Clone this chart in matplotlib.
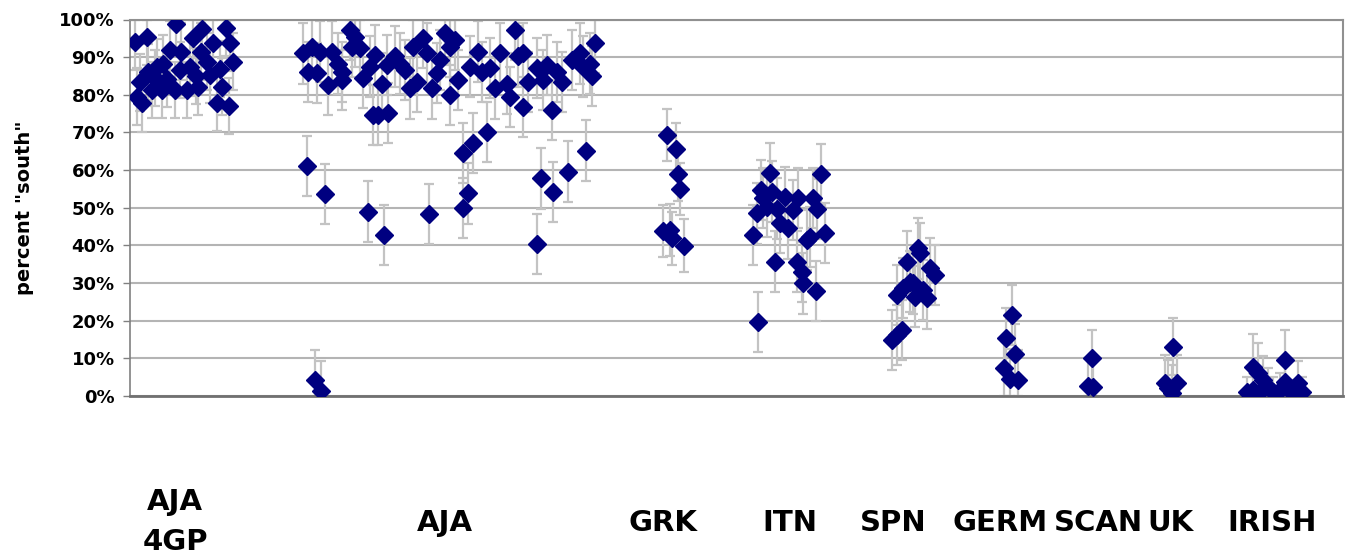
import numpy as np
import matplotlib
matplotlib.use('Agg')
import matplotlib.pyplot as plt

# sample positions (order along the x axis) and percent "south" for each group
gp4_x = [135, 147, 176, 193, 202, 213, 226, 230, 170, 181, 201, 233, 207, 163, 157, 148, 167,
         180, 190, 220, 210, 140, 152, 162, 175, 187, 198, 222, 137, 142, 217, 229, 155, 196]
gp4_y = [94.1, 95.3, 98.7, 95.0, 97.4, 93.7, 97.7, 93.7, 92.0, 91.5, 91.5, 88.8, 88.8, 88.3, 87.4, 86.0, 84.3,
         86.6, 87.3, 86.8, 85.3, 83.3, 81.3, 81.3, 81.3, 81.3, 82.2, 82.2, 79.5, 77.7, 77.9, 77.0, 84.5, 85.0]

aja_x = [303, 312, 320, 308, 317, 328, 332, 338, 342, 342, 350, 355, 352, 360, 363, 370, 375, 382,
         373, 378, 388, 387, 395, 400, 405, 410, 417, 413, 423, 427, 432, 437, 440, 445, 450, 455,
         450, 458, 470, 478, 482, 490, 495, 500, 507, 510, 515, 518, 523, 523, 528, 537, 543, 547,
         552, 557, 562, 572, 580, 583, 592, 595, 590,
         307, 325, 368, 384, 429, 463, 473, 487, 468, 463, 541, 553, 568, 586, 537, 315, 321]
aja_y = [91.0, 92.8, 91.5, 86.1, 85.7, 82.6, 91.5, 88.3, 86.1, 83.9, 97.2, 95.4, 92.8, 92.3, 84.4, 87.5,
         90.6, 83.0, 74.6, 74.6, 75.1, 87.9, 90.2, 88.3, 86.6, 81.7, 83.5, 92.8, 95.0, 91.0, 81.7, 85.7,
         89.2, 96.3, 92.8, 94.6, 79.9, 83.9, 87.5, 91.5, 86.1, 87.1, 81.7, 91.0, 83.0, 79.5, 97.2, 90.2,
         91.0, 76.8, 83.5, 87.1, 83.9, 87.9, 76.0, 86.1, 83.5, 89.2, 91.0, 87.5, 84.9, 93.7, 88.3,
         61.1, 53.7, 49.0, 42.7, 48.3, 64.6, 67.1, 70.2, 53.8, 50.0, 57.8, 54.1, 59.6, 65.2, 40.3, 4.2, 1.3]

grk_x = [667, 676, 678, 680, 663, 670, 672, 684]
grk_y = [69.3, 65.5, 58.9, 55.0, 43.8, 44.1, 41.9, 39.9]

itn_x = [753, 757, 758, 761, 763, 767, 770, 772, 775, 777, 780, 785, 788, 793, 798, 797, 802, 803,
         807, 810, 813, 817, 816, 821, 825]
itn_y = [42.8, 48.5, 19.7, 54.7, 52.5, 50.3, 59.3, 54.3, 35.7, 49.8, 45.9, 52.8, 44.5, 49.4, 52.5,
         35.7, 33.0, 29.9, 41.4, 42.3, 52.5, 49.6, 27.9, 58.9, 43.2]

spn_x = [892, 897, 902, 897, 903, 910, 907, 918, 920, 915, 923, 927, 930, 935, 913]
spn_y = [14.9, 16.2, 17.5, 26.8, 28.6, 30.4, 35.7, 39.2, 37.9, 26.4, 28.2, 25.9, 33.9, 32.1, 29.9]

germ_x = [1012, 1006, 1015, 1004, 1010, 1018]
germ_y = [21.5, 15.3, 11.2, 7.5, 4.4, 4.2]

scan_x = [1092, 1088, 1093]
scan_y = [10.2, 2.7, 2.3]

uk_x = [1173, 1165, 1177, 1172, 1168]
uk_y = [13.1, 3.4, 3.4, 0.7, 2.0]

irish_x = [1247, 1253, 1258, 1263, 1253, 1260, 1268, 1273, 1280, 1285, 1285, 1292, 1298, 1302]
irish_y = [1.1, 7.8, 6.0, 4.2, 1.6, 1.1, 2.5, 1.1, 1.6, 9.6, 3.8, 0.7, 3.4, 1.1]
irish_err = [4.0, 8.8, 8.0, 6.5, 4.5, 4.0, 5.0, 4.0, 4.5, 8.0, 6.0, 3.5, 6.0, 4.0]

# approximate error bar half-widths per group
group_err = {'gp4': 7.5, 'aja': 8.0, 'grk': 7.0, 'itn': 8.0, 'spn': 8.0,
             'germ': 8.0, 'scan': 7.3, 'uk': 7.5}

group_labels = ['AJA\n4GP', 'AJA', 'GRK', 'ITN', 'SPN', 'GERM', 'SCAN', 'UK', 'IRISH']
label_pos = [175, 445, 663, 790, 893, 1000, 1098, 1170, 1272]

yticks = np.arange(0, 101, 10)
ytick_labels = ['%d%%' % t for t in yticks]

fig = plt.figure(figsize=(13.46, 5.54), dpi=100)
ax = fig.add_axes([130 / 1346, 1 - 396 / 554, 1213 / 1346, (396 - 19.5) / 554])

series = [
    (gp4_x, gp4_y, [group_err['gp4']] * len(gp4_y)),
    (aja_x, aja_y, [group_err['aja']] * len(aja_y)),
    (grk_x, grk_y, [group_err['grk']] * len(grk_y)),
    (itn_x, itn_y, [group_err['itn']] * len(itn_y)),
    (spn_x, spn_y, [group_err['spn']] * len(spn_y)),
    (germ_x, germ_y, [group_err['germ']] * len(germ_y)),
    (scan_x, scan_y, [group_err['scan']] * len(scan_y)),
    (uk_x, uk_y, [group_err['uk']] * len(uk_y)),
    (irish_x, irish_y, irish_err),
]

for xs, ys, errs in series:
    ys = np.array(ys)
    errs = np.array(errs)
    lower = np.minimum(errs, ys)
    upper = np.minimum(errs, 100 - ys)
    ax.errorbar(xs, ys, yerr=[lower, upper], fmt='none', ecolor='#c3c3c3',
                elinewidth=1.6, capsize=3.5, capthick=1.6, zorder=2)
for xs, ys, errs in series:
    ax.plot(xs, ys, linestyle='none', marker='D', markersize=9.5,
            color='#000080', markeredgecolor='#000080', zorder=3)

ax.set_xlim(130, 1343)
ax.set_ylim(0, 100)
ax.set_xticks([])
ax.set_yticks(yticks)
ax.set_yticklabels(ytick_labels, fontsize=13, fontweight='bold', family='DejaVu Sans')
ax.tick_params(axis='y', length=5, width=1, color='#808080', pad=6)
ax.yaxis.grid(True, color='#b4b4b4', linewidth=1.5)
ax.set_axisbelow(True)
for side in ['top', 'right']:
    ax.spines[side].set_color('#909090')
    ax.spines[side].set_linewidth(1.5)
ax.spines['left'].set_color('#808080')
ax.spines['left'].set_linewidth(1.2)
ax.spines['bottom'].set_color('#707070')
ax.spines['bottom'].set_linewidth(2)

fig.text(25 / 1346, 1 - 208 / 554, 'percent "south"', rotation=90, fontsize=14,
         fontweight='bold', ha='center', va='center', family='DejaVu Sans')

for lab, xp in zip(group_labels, label_pos):
    yp = 523 if '\n' not in lab else 522
    fig.text(xp / 1346, 1 - yp / 554, lab, fontsize=21, fontweight='bold',
             ha='center', va='center', family='DejaVu Sans', linespacing=1.5)

fig.savefig('out.png', dpi=100)
